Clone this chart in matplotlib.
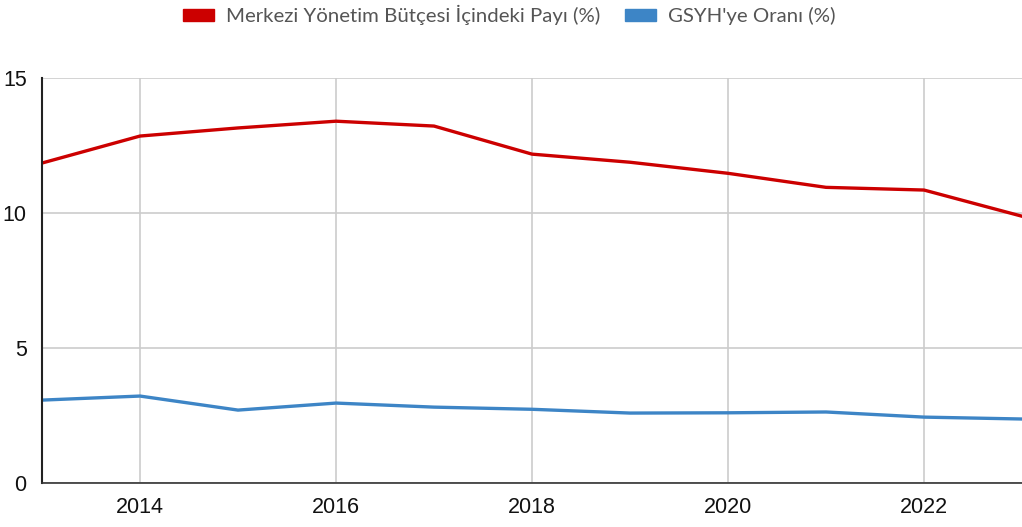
import numpy as np
import matplotlib.pyplot as plt
from matplotlib.patches import Patch

years = [2013, 2014, 2015, 2016, 2017, 2018, 2019, 2020, 2021, 2022, 2023]
butce_payi = [11.85, 12.85, 13.15, 13.4, 13.22, 12.18, 11.88, 11.47, 10.95, 10.85, 9.88]
gsyh_orani = [3.07, 3.22, 2.7, 2.96, 2.81, 2.73, 2.59, 2.6, 2.63, 2.44, 2.37]

label_red = "Merkezi Yönetim Bütçesi İçindeki Payı (%)"
label_blue = "GSYH'ye Oranı (%)"
x_ticks = [2014, 2016, 2018, 2020, 2022]
y_ticks = [0, 5, 10, 15]

fig = plt.figure(figsize=(10.22, 5.27), dpi=100)
ax = fig.add_axes([0.0411, 0.0835, 0.9589, 0.7685])

ax.plot(years, butce_payi, color='#cc0000', lw=2.4, label=label_red)
ax.plot(years, gsyh_orani, color='#3d85c6', lw=2.4, label=label_blue)

ax.set_xlim(2013, 2023)
ax.set_ylim(0, 15)
ax.set_xticks(x_ticks)
ax.set_yticks(y_ticks)
ax.grid(True, color='#cccccc', lw=1.2)
ax.set_axisbelow(True)
ax.tick_params(length=0, labelsize=15.5)
ax.tick_params(axis='x', pad=10)
ax.tick_params(axis='y', pad=11)
for lab in ax.get_xticklabels() + ax.get_yticklabels():
    lab.set_family('Liberation Sans')
    lab.set_color('#111111')

for s in ['top', 'right']:
    ax.spines[s].set_visible(False)
ax.spines['left'].set_color('#222222')
ax.spines['left'].set_linewidth(1.5)
ax.spines['bottom'].set_color('#333333')
ax.spines['bottom'].set_linewidth(1.2)

handles = [Patch(color='#cc0000', label=label_red), Patch(color='#3d85c6', label=label_blue)]
fig.legend(handles=handles, loc='upper center', bbox_to_anchor=(0.4985, 1.025), ncol=2, frameon=False,
           prop={'family': 'Lato', 'size': 14.7}, labelcolor='#555555',
           handlelength=1.5, handleheight=0.5, columnspacing=1.2, handletextpad=0.6)

fig.savefig('out.png', dpi=100)
